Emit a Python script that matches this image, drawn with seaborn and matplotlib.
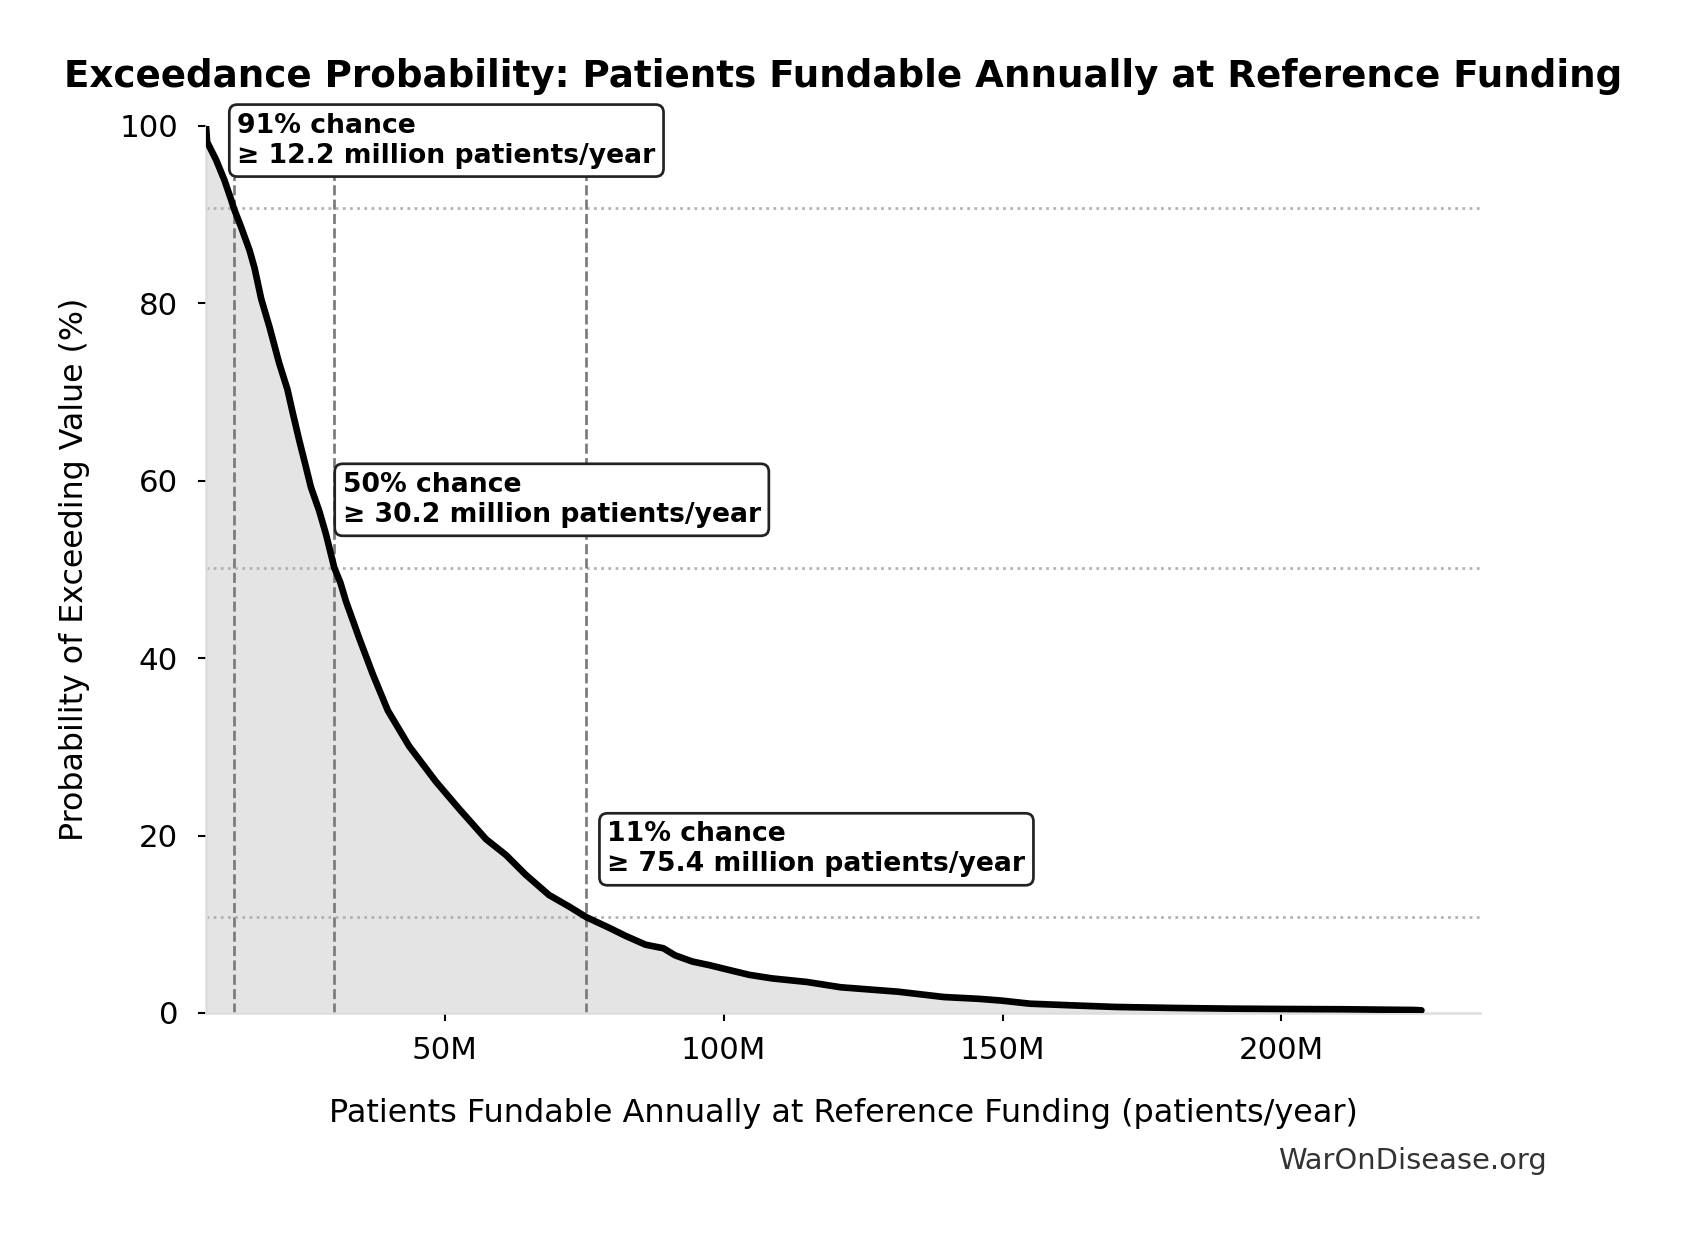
import numpy as np
import pandas as pd
import matplotlib
matplotlib.use("Agg")
import matplotlib.pyplot as plt
import seaborn as sns
from matplotlib.ticker import FuncFormatter

# Exceedance curve (patients in millions, probability in %)
patients_m = [7.2, 7.4, 9.0, 10.5, 11.7, 12.2, 13.5, 15.0, 15.9, 17.1, 18.6, 20.3,
              21.8, 22.7, 23.9, 25.1, 26.0, 27.5, 28.7, 30.2, 31.3, 32.3, 34.7, 37.1,
              39.8, 43.6, 48.4, 52.6, 57.4, 61.0, 64.5, 68.7, 72.3, 75.4, 79.5, 82.4,
              86.0, 89.2, 91.3, 94.4, 97.4, 100.0, 104.6, 108.7, 114.9, 121.0, 131.3,
              139.5, 145.7, 149.8, 154.9, 162.1, 170.3, 180.6, 190.9, 201.1, 211.4,
              223.7, 225.1]
exceed_pct = [100.0, 98.2, 96.2, 93.9, 91.7, 90.7, 88.6, 86.0, 84.0, 80.5, 77.3, 73.3,
              70.3, 67.8, 64.6, 61.6, 59.3, 56.6, 54.0, 50.2, 48.5, 46.4, 42.2, 38.2,
              34.1, 30.1, 26.1, 23.0, 19.6, 17.8, 15.6, 13.3, 12.0, 10.8, 9.6, 8.7,
              7.7, 7.3, 6.5, 5.8, 5.4, 5.0, 4.3, 3.9, 3.5, 2.9, 2.4,
              1.8, 1.6, 1.4, 1.05, 0.87, 0.68, 0.57, 0.49, 0.45, 0.42,
              0.34, 0.3]

# marked percentiles
marker_vals = [12.2, 30.2, 75.4]
marker_probs = [90.7, 50.2, 10.8]
marker_labels = ["91% chance\n≥ 12.2 million patients/year",
                 "50% chance\n≥ 30.2 million patients/year",
                 "11% chance\n≥ 75.4 million patients/year"]

df = pd.DataFrame({"patients": patients_m, "prob": exceed_pct})

sns.set_theme(style="ticks")
plt.rcParams["font.family"] = ["DejaVu Sans"]
plt.rcParams["text.color"] = "black"
plt.rcParams["axes.labelcolor"] = "black"
plt.rcParams["xtick.color"] = "black"
plt.rcParams["ytick.color"] = "black"

W, H = 1681, 1234
fig = plt.figure(figsize=(W / 150, H / 150), dpi=150)
ax = fig.add_axes([206 / W, 1 - 1013 / H, (1480 - 206) / W, (1013 - 126) / H])

ax.fill_between(df["patients"], df["prob"], 0, color="#e4e4e4", zorder=1, linewidth=0)
sns.lineplot(data=df, x="patients", y="prob", ax=ax, color="black", linewidth=3.2,
             zorder=3, solid_capstyle="round")

for v, p, lab in zip(marker_vals, marker_probs, marker_labels):
    ax.axvline(v, color="#7a7a7a", linestyle="--", linewidth=1.3, zorder=2)
    ax.axhline(p, color="#b0b0b0", linestyle=":", linewidth=1.3, zorder=2)
    ax.text(v * 1.05, p + 4.5, lab, fontsize=12.8, fontweight="bold", va="bottom",
            ha="left", zorder=5,
            bbox=dict(boxstyle="round,pad=0.3", facecolor="white",
                      edgecolor="#222222", linewidth=1.3))

ax.set_xlim(7.2, 235.6)
ax.set_ylim(0, 100)
ax.set_yticks([0, 20, 40, 60, 80, 100])
ax.xaxis.set_major_formatter(FuncFormatter(lambda v, _: f"{v:.0f}M"))
ax.tick_params(axis="both", labelsize=14.8, length=3.9, width=1.0)
ax.tick_params(axis="x", pad=7)
ax.tick_params(axis="y", pad=9.5)

for side in ["top", "right"]:
    ax.spines[side].set_visible(False)
for side in ["left", "bottom"]:
    ax.spines[side].set_color("#dddddd")
    ax.spines[side].set_linewidth(1.2)

ax.set_title("Exceedance Probability: Patients Fundable Annually at Reference Funding",
             fontsize=17.9, fontweight="bold", pad=18.5)
ax.set_xlabel("Patients Fundable Annually at Reference Funding (patients/year)",
              fontsize=15.3)
ax.set_ylabel("Probability of Exceeding Value (%)", fontsize=15.2)
ax.xaxis.set_label_coords(0.5, -0.0955)
ax.yaxis.set_label_coords(-0.0914, 0.5)

fig.text(0.920, 1 - 1161 / H, "WarOnDisease.org", ha="right", va="center",
         fontsize=13.9, color="#333333")

fig.savefig("out.png", dpi=150, facecolor="white")
